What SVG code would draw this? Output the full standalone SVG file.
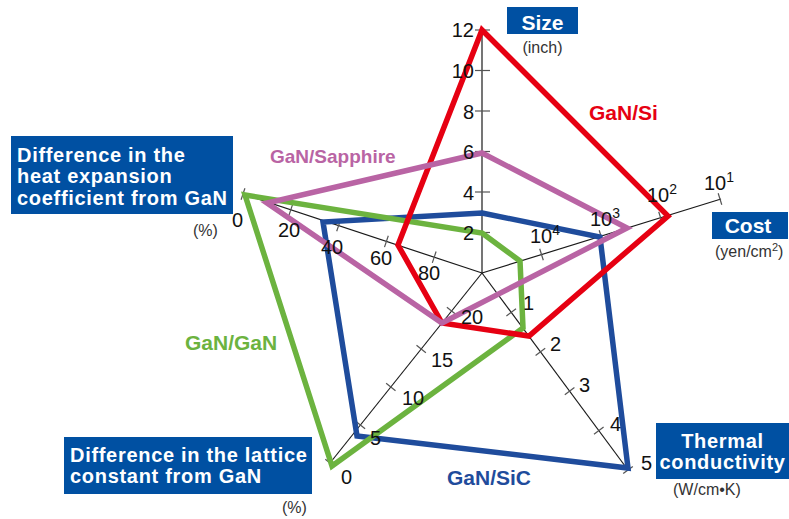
<svg xmlns="http://www.w3.org/2000/svg" width="789" height="519" viewBox="0 0 789 519">
<style>
.ax{stroke:#1a1a1a;stroke-width:1.2;fill:none}
.tk{stroke:#555;stroke-width:1.2;fill:none}
.num{font-family:"Liberation Sans",Arial,sans-serif;font-size:20px;fill:#111}
.sup{font-size:14px}
.unit{font-family:"Liberation Sans",Arial,sans-serif;font-size:16px;fill:#333}
.box{fill:#0050a2}
.bt{font-family:"Liberation Sans",Arial,sans-serif;font-weight:bold;font-size:21px;fill:#fff}
.bt2{font-family:"Liberation Sans",Arial,sans-serif;font-weight:bold;font-size:20px;letter-spacing:0.7px;fill:#fff}
.ser{fill:none;stroke-width:5.5;stroke-linejoin:miter;stroke-miterlimit:10}
.sl{font-family:"Liberation Sans",Arial,sans-serif;font-weight:bold;font-size:21px}
</style>
<rect width="789" height="519" fill="#fff"/>
<g id="axes">
<line class="ax" x1="482" y1="273" x2="482" y2="29"/>
<line class="ax" x1="482" y1="273" x2="721" y2="199"/>
<line class="ax" x1="482" y1="273" x2="628" y2="470"/>
<line class="ax" x1="482" y1="273" x2="330" y2="463"/>
<line class="ax" x1="482" y1="273" x2="243" y2="194"/>
</g>
<g id="ticks">
<line class="tk" x1="475" y1="232.5" x2="490" y2="232.5"/>
<line class="tk" x1="475" y1="192" x2="490" y2="192"/>
<line class="tk" x1="475" y1="151.5" x2="490" y2="151.5"/>
<line class="tk" x1="475" y1="111" x2="490" y2="111"/>
<line class="tk" x1="475" y1="70.5" x2="490" y2="70.5"/>
<line class="tk" x1="475" y1="30" x2="490" y2="30"/>
<line class="tk" x1="539.7" y1="248.8" x2="543.3" y2="260.2"/>
<line class="tk" x1="599.2" y1="230.3" x2="602.8" y2="241.7"/>
<line class="tk" x1="658.7" y1="211.8" x2="662.3" y2="223.2"/>
<line class="tk" x1="718.2" y1="193.3" x2="721.8" y2="204.7"/>
<line class="tk" x1="506.4" y1="316" x2="516" y2="308.8"/>
<line class="tk" x1="535.6" y1="355.4" x2="545.2" y2="348.2"/>
<line class="tk" x1="564.8" y1="394.8" x2="574.4" y2="387.6"/>
<line class="tk" x1="594" y1="434.2" x2="603.6" y2="427"/>
<line class="tk" x1="623.2" y1="473.6" x2="632.8" y2="466.4"/>
<line class="tk" x1="446.9" y1="307.3" x2="456.3" y2="314.8"/>
<line class="tk" x1="416.5" y1="345.3" x2="425.9" y2="352.8"/>
<line class="tk" x1="386.1" y1="383.3" x2="395.5" y2="390.8"/>
<line class="tk" x1="355.7" y1="421.3" x2="365.1" y2="428.8"/>
<line class="tk" x1="325.3" y1="459.3" x2="334.7" y2="466.8"/>
<line class="tk" x1="432.3" y1="262.9" x2="436.1" y2="251.5"/>
<line class="tk" x1="384.5" y1="247.1" x2="388.3" y2="235.7"/>
<line class="tk" x1="336.7" y1="231.3" x2="340.5" y2="219.9"/>
<line class="tk" x1="288.9" y1="215.5" x2="292.7" y2="204.1"/>
<line class="tk" x1="241.1" y1="199.7" x2="244.9" y2="188.3"/>
</g>
<g id="series">
<polygon id="gan-sic" class="ser" stroke="#1f4c9c" points="482,213 600,237 628,468 357,436 323,222"/>
<polygon id="gan-gan" class="ser" stroke="#6cb33f" points="482,233 520,261 523,328 332,466 245,195"/>
<polygon id="gan-si" class="ser" stroke="#e60012" points="482,30 668,216 529,336 442,323 398,245"/>
<polygon id="gan-sapphire" class="ser" stroke="#b964a4" points="482,153 627,228 497.8,294.4 442,323 267,203"/>
</g>
<g id="tick-labels">
<text class="num" x="474" y="37" text-anchor="end">12</text>
<text class="num" x="474" y="78" text-anchor="end">10</text>
<text class="num" x="474" y="118.5" text-anchor="end">8</text>
<text class="num" x="474" y="159" text-anchor="end">6</text>
<text class="num" x="474" y="199.5" text-anchor="end">4</text>
<text class="num" x="474" y="240" text-anchor="end">2</text>
<text class="num" x="530" y="243">10<tspan class="sup" dy="-8">4</tspan></text>
<text class="num" x="590" y="226">10<tspan class="sup" dy="-8">3</tspan></text>
<text class="num" x="647" y="202">10<tspan class="sup" dy="-8">2</tspan></text>
<text class="num" x="704" y="190">10<tspan class="sup" dy="-8">1</tspan></text>
<text class="num" x="523" y="310">1</text>
<text class="num" x="550" y="351">2</text>
<text class="num" x="579" y="392">3</text>
<text class="num" x="610" y="431">4</text>
<text class="num" x="641" y="470">5</text>
<text class="num" x="461" y="323.5">20</text>
<text class="num" x="431" y="367">15</text>
<text class="num" x="402" y="405">10</text>
<text class="num" x="370" y="445">5</text>
<text class="num" x="341" y="484">0</text>
<text class="num" x="232" y="227">0</text>
<text class="num" x="278" y="237">20</text>
<text class="num" x="321" y="253.5">40</text>
<text class="num" x="370" y="265">60</text>
<text class="num" x="418" y="279.5">80</text>
</g>
<g id="series-labels">
<text class="sl" x="589" y="120" fill="#e60012">GaN/Si</text>
<text class="sl" x="270" y="162.7" fill="#b964a4" style="font-size:19px">GaN/Sapphire</text>
<text class="sl" x="185" y="350" fill="#6cb33f">GaN/GaN</text>
<text class="sl" x="447" y="485" fill="#1f4c9c">GaN/SiC</text>
</g>
<g id="node-size">
<rect class="box" x="507" y="7" width="71" height="27"/>
<text class="bt" x="542.5" y="30" text-anchor="middle">Size</text>
<text class="unit" x="542.5" y="53" text-anchor="middle">(inch)</text>
</g>
<g id="node-cost">
<rect class="box" x="712" y="212" width="76" height="27"/>
<text class="bt" x="748" y="233" text-anchor="middle">Cost</text>
<text class="unit" x="715" y="257">(yen/cm<tspan style="font-size:11px" dy="-6">2</tspan><tspan dy="6">)</tspan></text>
</g>
<g id="node-thermal">
<rect class="box" x="656" y="423" width="133" height="56"/>
<text class="bt2" x="722.5" y="448" text-anchor="middle">Thermal</text>
<text class="bt2" x="722.5" y="469" text-anchor="middle">conductivity</text>
<text class="unit" x="673" y="495">(W/cm•K)</text>
</g>
<g id="node-lattice">
<rect class="box" x="64" y="437" width="248" height="57"/>
<text class="bt2" x="70" y="461.7">Difference in the lattice</text>
<text class="bt2" x="70" y="483.3">constant from GaN</text>
<text class="unit" x="282" y="513">(%)</text>
</g>
<g id="node-heat">
<rect class="box" x="11" y="136" width="222" height="78"/>
<text class="bt2" x="17" y="161.7">Difference in the</text>
<text class="bt2" x="17" y="183">heat expansion</text>
<text class="bt2" x="17" y="204.5">coefficient from GaN</text>
<text class="unit" x="193" y="236">(%)</text>
</g>
</svg>
